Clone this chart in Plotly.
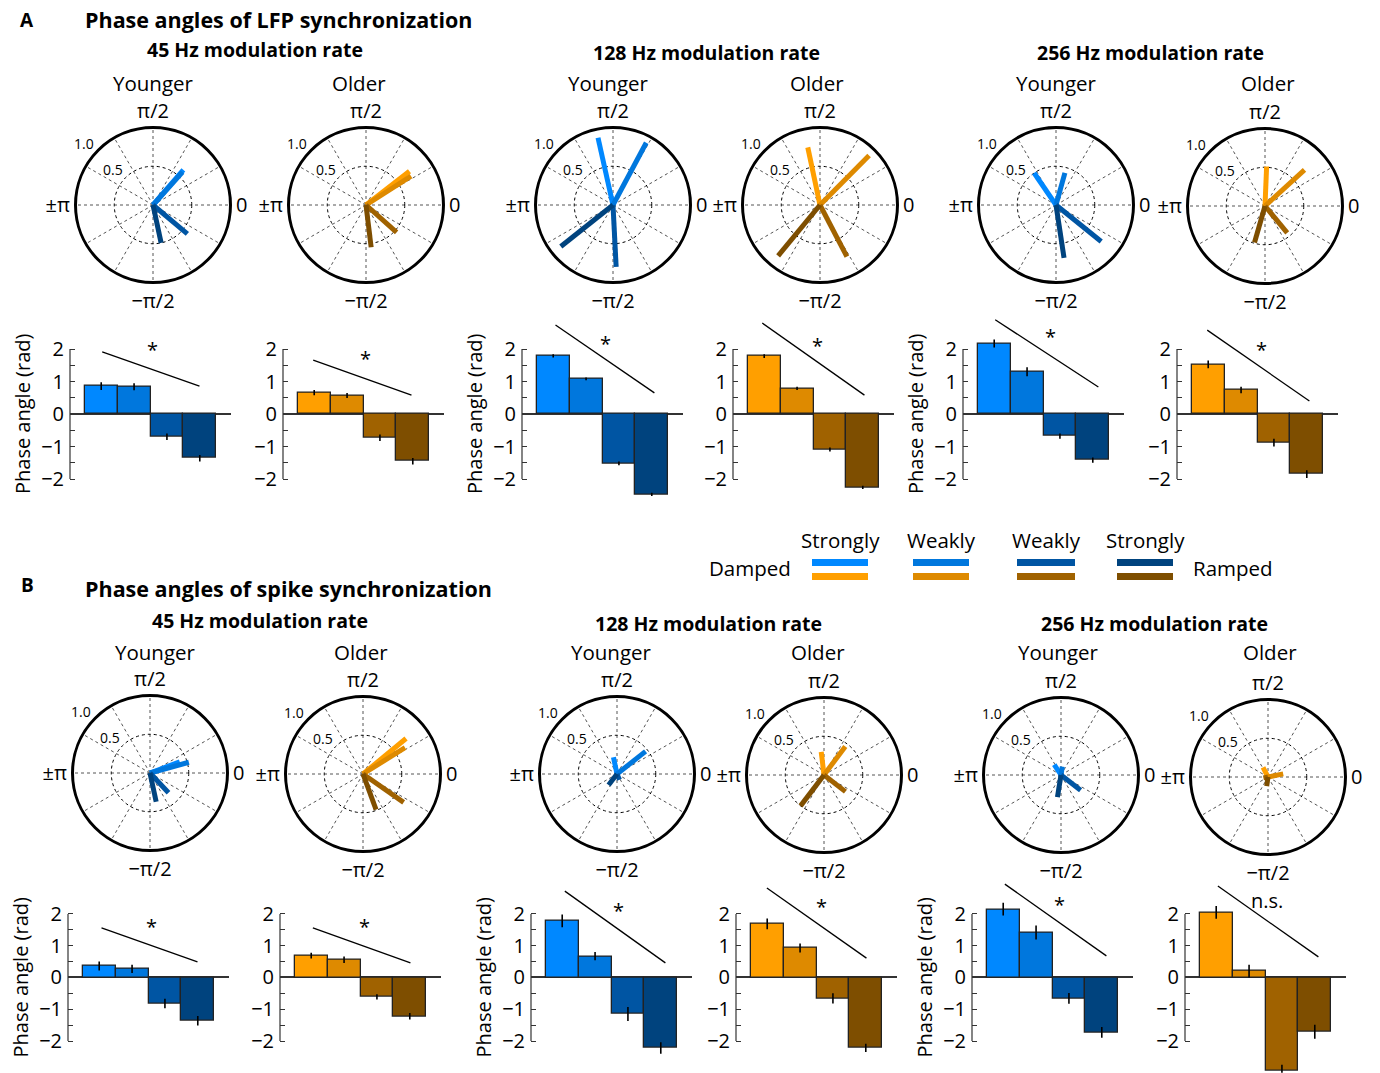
import numpy as np
import plotly.graph_objects as go

W, H = 1380, 1073
FONT = "Open Sans"

# ---------------- DATA ----------------
conditions = ["Strongly damped", "Weakly damped", "Weakly ramped", "Strongly ramped"]
blue_colors = ["#0088FF", "#0077DD", "#0055A3", "#00437E"]
orange_colors = ["#FF9F00", "#DE8A00", "#A06200", "#7E4E00"]
angle_ticks = ["0", "π/2", "±π", "−π/2"]
radial_ticks = [0.5, 1.0]
bar_ticks = [-2, -1, 0, 1, 2]

# A: LFP synchronization -- phase angle (rad), s.e.m., vector strength
lfp45_young_phase = [0.86, 0.84, -0.70, -1.36]
lfp45_young_err = [0.12, 0.11, 0.10, 0.10]
lfp45_young_mag = [0.60, 0.57, 0.58, 0.50]
lfp45_older_phase = [0.66, 0.57, -0.73, -1.45]
lfp45_older_err = [0.08, 0.08, 0.10, 0.10]
lfp45_older_mag = [0.71, 0.69, 0.53, 0.55]
lfp128_young_phase = [1.79, 1.08, -1.52, -2.47]
lfp128_young_err = [0.05, 0.04, 0.06, 0.05]
lfp128_young_mag = [0.89, 0.91, 0.80, 0.86]
lfp128_older_phase = [1.78, 0.79, -1.09, -2.26]
lfp128_older_err = [0.06, 0.05, 0.06, 0.05]
lfp128_older_mag = [0.76, 0.90, 0.75, 0.85]
lfp256_young_phase = [2.17, 1.30, -0.68, -1.42]
lfp256_young_err = [0.12, 0.14, 0.08, 0.08]
lfp256_young_mag = [0.50, 0.43, 0.75, 0.69]
lfp256_older_phase = [1.53, 0.74, -0.88, -1.85]
lfp256_older_err = [0.12, 0.10, 0.12, 0.12]
lfp256_older_mag = [0.51, 0.69, 0.45, 0.49]

# B: spike synchronization
spk45_young_phase = [0.36, 0.27, -0.82, -1.36]
spk45_young_err = [0.14, 0.13, 0.15, 0.15]
spk45_young_mag = [0.41, 0.52, 0.35, 0.38]
spk45_older_phase = [0.69, 0.56, -0.61, -1.22]
spk45_older_err = [0.09, 0.10, 0.08, 0.10]
spk45_older_mag = [0.72, 0.64, 0.64, 0.49]
spk128_young_phase = [1.78, 0.67, -1.15, -2.22]
spk128_young_err = [0.20, 0.13, 0.22, 0.18]
spk128_young_mag = [0.22, 0.47, 0.08, 0.18]
spk128_older_phase = [1.69, 0.93, -0.66, -2.22]
spk128_older_err = [0.17, 0.14, 0.16, 0.13]
spk128_older_mag = [0.30, 0.46, 0.35, 0.50]
spk256_young_phase = [2.15, 1.42, -0.66, -1.73]
spk256_young_err = [0.20, 0.22, 0.17, 0.17]
spk256_young_mag = [0.16, 0.11, 0.32, 0.29]
spk256_older_phase = [2.05, 0.20, -2.95, -1.71]
spk256_older_err = [0.20, 0.20, 0.20, 0.22]
spk256_older_mag = [0.14, 0.20, 0.06, 0.12]

# significance annotations (trend line endpoints in data units, label, label position)
sig_labels = ["*", "*", "*", "*", "*", "*", "*", "*", "*", "*", "*", "n.s."]
sig_lines = [
    (1.03, 1.91, 3.99, 0.86), (0.97, 1.66, 3.96, 0.58),
    (1.07, 2.74, 4.08, 0.65), (0.94, 2.80, 4.05, 0.58),
    (1.03, 2.90, 4.17, 0.83), (0.97, 2.58, 4.08, 0.40),
    (1.07, 1.56, 3.99, 0.49), (1.05, 1.56, 4.02, 0.46),
    (1.08, 2.72, 4.14, 0.46), (0.99, 2.82, 4.02, 0.61),
    (1.05, 2.94, 4.14, 0.68), (1.05, 2.88, 4.11, 0.65),
]
sig_label_pos = [
    (2.57, 1.97), (2.57, 1.70), (2.60, 2.18), (2.63, 2.12), (2.70, 2.37), (2.63, 1.97),
    (2.58, 1.60), (2.62, 1.60), (2.72, 2.10), (2.66, 2.22), (2.72, 2.30), (2.56, 2.44),
]

panels = [
    (lfp45_young_phase, lfp45_young_err, lfp45_young_mag, blue_colors, True),
    (lfp45_older_phase, lfp45_older_err, lfp45_older_mag, orange_colors, False),
    (lfp128_young_phase, lfp128_young_err, lfp128_young_mag, blue_colors, True),
    (lfp128_older_phase, lfp128_older_err, lfp128_older_mag, orange_colors, False),
    (lfp256_young_phase, lfp256_young_err, lfp256_young_mag, blue_colors, True),
    (lfp256_older_phase, lfp256_older_err, lfp256_older_mag, orange_colors, False),
    (spk45_young_phase, spk45_young_err, spk45_young_mag, blue_colors, True),
    (spk45_older_phase, spk45_older_err, spk45_older_mag, orange_colors, False),
    (spk128_young_phase, spk128_young_err, spk128_young_mag, blue_colors, True),
    (spk128_older_phase, spk128_older_err, spk128_older_mag, orange_colors, False),
    (spk256_young_phase, spk256_young_err, spk256_young_mag, blue_colors, True),
    (spk256_older_phase, spk256_older_err, spk256_older_mag, orange_colors, False),
]

# ---------------- LAYOUT GEOMETRY (pixels) ----------------
R = 77.5
polar_centers = [(153, 205), (366, 205), (613, 205), (820, 205), (1056, 205), (1265, 206),
                 (150, 773), (363, 774), (617, 774), (824, 775), (1061, 775), (1268, 777)]
bar_left = [70, 283, 522, 733, 963, 1177, 68, 280, 531, 736, 972, 1185]
BAR_W = 161
bar_rows = [(306.75, 511.5), (872.7, 1072.75)]
YR = [-3.0, 3.3]
XR = [0.05, 4.95]
RLABEL_ANGLE = np.radians(138)
RLABEL_OFF = 15


def fx(p):
    return p / W


def fy(p):
    return 1 - p / H


fig = go.Figure()
layout = {}
annotations = []
shapes = []
x_cat = [1, 2, 3, 4]

for i, (phase, err, mag, colors, young) in enumerate(panels):
    pname = "polar" if i == 0 else f"polar{i+1}"
    cx, cy = polar_centers[i]
    layout[pname] = dict(
        domain=dict(x=[fx(cx - R), fx(cx + R)], y=[fy(cy + R), fy(cy - R)]),
        bgcolor="white",
        angularaxis=dict(
            tickmode="array",
            tickvals=list(range(0, 360, 30)),
            ticktext=[angle_ticks[k // 3] if k % 3 == 0 else "" for k in range(12)],
            direction="counterclockwise", rotation=0,
            showline=True, linecolor="black", linewidth=3,
            showgrid=True, gridcolor="#555", griddash="dot", gridwidth=1,
            ticks="", tickfont=dict(size=20, family=FONT, color="black"),
        ),
        radialaxis=dict(
            range=[0, 1], tickvals=radial_ticks, showticklabels=False,
            showline=False, ticks="", showgrid=True, gridcolor="black",
            griddash="3px,3px", gridwidth=1.3,
        ),
    )
    for k in range(4):
        fig.add_trace(go.Scatterpolar(
            r=[0, mag[k]], theta=[0, np.degrees(phase[k])], mode="lines",
            line=dict(color=colors[k], width=5), subplot=pname,
            showlegend=False, hoverinfo="skip"))
    # radial tick labels, placed just outside their circle
    for v in radial_ticks:
        d = v * R + RLABEL_OFF
        annotations.append(dict(text=f"{v:.1f}", xref="paper", yref="paper",
                                x=fx(cx + d * np.cos(RLABEL_ANGLE)),
                                y=fy(cy - d * np.sin(RLABEL_ANGLE)),
                                showarrow=False, xanchor="center", yanchor="middle",
                                font=dict(size=14, family=FONT, color="black")))

    # bar chart
    xa = "x" if i == 0 else f"x{i+1}"
    ya = "y" if i == 0 else f"y{i+1}"
    xkey = "xaxis" if i == 0 else f"xaxis{i+1}"
    ykey = "yaxis" if i == 0 else f"yaxis{i+1}"
    fig.add_trace(go.Bar(
        x=x_cat, y=phase, xaxis=xa, yaxis=ya, width=1,
        marker=dict(color=colors, line=dict(color="#222", width=1.3)),
        error_y=dict(type="data", array=err, color="black", thickness=1.6, width=0),
        showlegend=False, hoverinfo="skip"))
    row = 0 if i < 6 else 1
    top, bot = bar_rows[row]
    x0 = bar_left[i]
    layout[xkey] = dict(domain=[fx(x0), fx(x0 + BAR_W)], range=XR, anchor=ya,
                        showticklabels=False, showline=False, showgrid=False,
                        zeroline=False, ticks="")
    layout[ykey] = dict(domain=[fy(bot), fy(top)], range=YR, anchor=xa,
                        tickmode="array", tickvals=bar_ticks, ticks="inside",
                        ticklen=5, tickcolor="#333", tickwidth=1, ticklabelstandoff=5,
                        minor=dict(tickvals=[-1.5, -0.5, 0.5, 1.5], ticks="inside",
                                   ticklen=5, tickcolor="#333", showgrid=False),
                        showgrid=False, showline=False,
                        zeroline=True, zerolinecolor="#333", zerolinewidth=1.5,
                        tickfont=dict(size=20, family=FONT, color="black"))
    # y axis spine from -2 to 2
    shapes.append(dict(type="line", xref=f"{xa} domain", yref=ya, x0=0, x1=0,
                       y0=bar_ticks[0], y1=bar_ticks[-1],
                       line=dict(color="#333", width=1.2)))
    # trend line
    sx0, sy0, sx1, sy1 = sig_lines[i]
    shapes.append(dict(type="line", xref=xa, yref=ya, x0=sx0, y0=sy0, x1=sx1, y1=sy1,
                       line=dict(color="black", width=1.3)))
    lx, ly = sig_label_pos[i]
    annotations.append(dict(text=sig_labels[i], xref=xa, yref=ya, x=lx, y=ly,
                            showarrow=False, xanchor="center", yanchor="middle",
                            font=dict(size=20, family=FONT, color="black")))
    if young:
        annotations.append(dict(text="Phase angle (rad)", xref=f"{xa} domain", yref=ya,
                                x=0, y=0, xshift=-48, textangle=-90, showarrow=False,
                                xanchor="center", yanchor="middle",
                                font=dict(size=20, family=FONT, color="black")))

# ---------------- TEXT ----------------
def txt(s, x, y, size=20, bold=False, anchor="center"):
    annotations.append(dict(text=f"<b>{s}</b>" if bold else s, xref="paper", yref="paper",
                            x=fx(x), y=fy(y), showarrow=False, xanchor=anchor,
                            yanchor="middle", font=dict(size=size, family=FONT, color="black")))


txt("A", 27, 20, 19, True)
txt("Phase angles of LFP synchronization", 83, 19, 21.5, True, "left")
txt("B", 27, 585, 19, True)
txt("Phase angles of spike synchronization", 83, 588, 21.5, True, "left")
group_titles = ["45 Hz modulation rate", "128 Hz modulation rate", "256 Hz modulation rate"]
for t, (x, y) in zip(group_titles, [(255, 50), (706, 53), (1150, 52)]):
    txt(t, x, y, 19.5, True)
for t, (x, y) in zip(group_titles, [(260, 620), (708, 623), (1154, 623)]):
    txt(t, x, y, 19.5, True)
age_labels = ["Younger", "Older"] * 3
for t, x in zip(age_labels, [153, 359, 608, 817, 1056, 1268]):
    txt(t, x, 83, 20.5)
for t, x in zip(age_labels, [155, 361, 611, 818, 1058, 1270]):
    txt(t, x, 652, 20.5)

# legend
legend_heads = ["Strongly", "Weakly", "Weakly", "Strongly"]
legend_x = [(812, 868), (913, 969), (1017, 1075), (1117, 1173)]
for k, (a, b) in enumerate(legend_x):
    txt(legend_heads[k], (a + b) / 2, 540, 20.5)
    shapes.append(dict(type="rect", xref="paper", yref="paper", x0=fx(a), x1=fx(b),
                       y0=fy(566), y1=fy(559), fillcolor=blue_colors[k], line=dict(width=0)))
    shapes.append(dict(type="rect", xref="paper", yref="paper", x0=fx(a), x1=fx(b),
                       y0=fy(580), y1=fy(573), fillcolor=orange_colors[k], line=dict(width=0)))
txt("Damped", 750, 568, 20.5)
txt("Ramped", 1233, 568, 20.5)

fig.update_layout(**layout)
fig.update_layout(width=W, height=H, margin=dict(l=0, r=0, t=0, b=0),
                  paper_bgcolor="white", plot_bgcolor="rgba(0,0,0,0)",
                  bargap=0, showlegend=False, annotations=annotations, shapes=shapes,
                  font=dict(family=FONT, color="black"))
fig.write_html("out.html", config={"displayModeBar": False},
               post_script="document.body.style.margin='0';")
